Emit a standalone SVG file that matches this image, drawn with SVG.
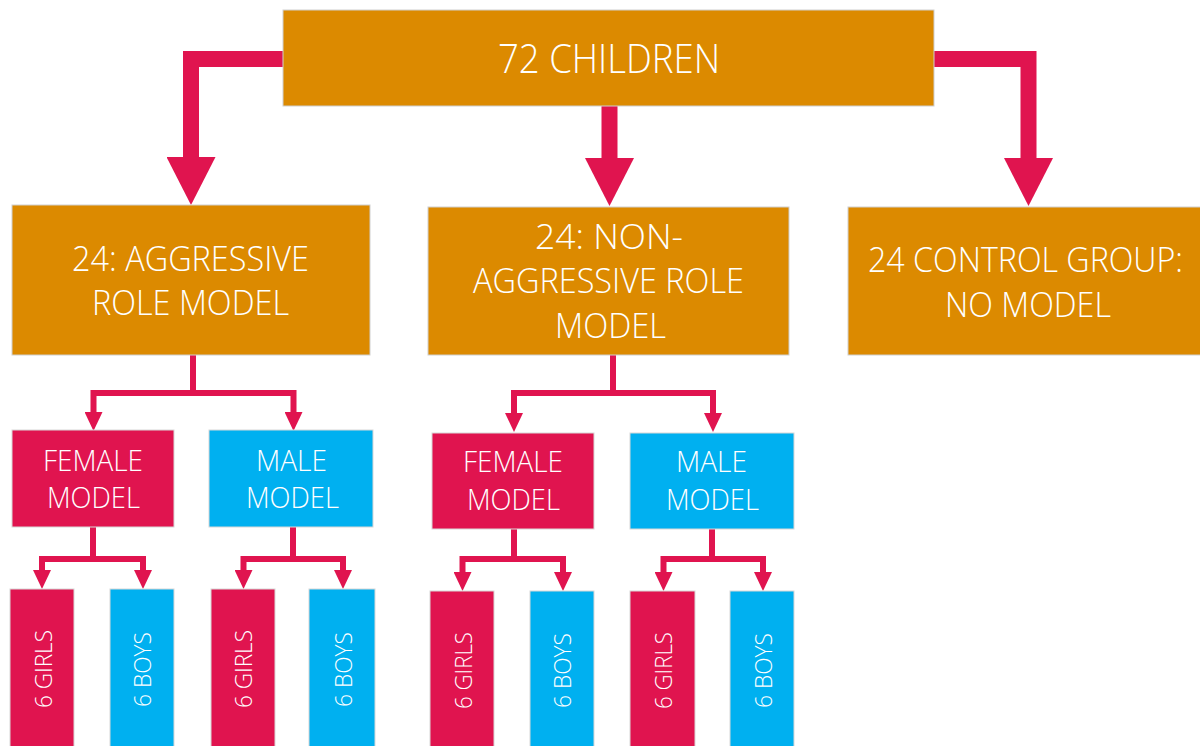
<svg xmlns="http://www.w3.org/2000/svg" width="1200" height="746" viewBox="0 0 1200 746">
<style>
.orange{fill:#DC8A00;stroke:#cfcfcf;stroke-width:1}
.pink{fill:#E0144F;stroke:#d8d8d8;stroke-width:1}
.blue{fill:#00B0F0;stroke:#d8d8d8;stroke-width:1}
text{font-family:"Open Sans","Liberation Sans",sans-serif;font-weight:300;fill:#FFFFFF;text-anchor:middle}
.t1{font-size:40px}
.t2{font-size:34px}
.t3{font-size:29px}
.t4{font-size:23px}
.big{fill:none;stroke:#E0144F;stroke-width:16;stroke-linejoin:miter}
.small{fill:none;stroke:#E0144F;stroke-width:6;stroke-linejoin:miter}
</style>
<defs>
<marker id="bigHead" markerUnits="userSpaceOnUse" markerWidth="48" markerHeight="49" viewBox="0 -24.5 48 49" refX="1" refY="0" orient="auto">
<path d="M0,-24.5 L48,0 L0,24.5 z" fill="#E0144F"/>
</marker>
<marker id="smallHead" markerUnits="userSpaceOnUse" markerWidth="19" markerHeight="18" viewBox="0 -9 19 18" refX="1" refY="0" orient="auto-start-reverse">
<path d="M0,-9 L19,0 L0,9 z" fill="#E0144F"/>
</marker>
</defs>
<g id="connectors">
<path class="big" d="M290,59 H191 V158" marker-end="url(#bigHead)"/>
<path class="big" d="M609.5,100 V159" marker-end="url(#bigHead)"/>
<path class="big" d="M928,59 H1028.5 V159" marker-end="url(#bigHead)"/>
<path class="small" d="M193,355 V393"/>
<path class="small" d="M93.5,413 V393 H293.5 V413" marker-start="url(#smallHead)" marker-end="url(#smallHead)"/>
<path class="small" d="M93,527 V559"/>
<path class="small" d="M42,571 V559 H143 V571" marker-start="url(#smallHead)" marker-end="url(#smallHead)"/>
<path class="small" d="M293,527 V559"/>
<path class="small" d="M243.5,571 V559 H343 V571" marker-start="url(#smallHead)" marker-end="url(#smallHead)"/>
<path class="small" d="M613,355 V393"/>
<path class="small" d="M514,414 V393 H713 V414" marker-start="url(#smallHead)" marker-end="url(#smallHead)"/>
<path class="small" d="M514,529 V559"/>
<path class="small" d="M462.5,573 V559 H563 V573" marker-start="url(#smallHead)" marker-end="url(#smallHead)"/>
<path class="small" d="M712,529 V559"/>
<path class="small" d="M663.5,573 V559 H763 V573" marker-start="url(#smallHead)" marker-end="url(#smallHead)"/>
</g>
<g id="node-72-children">
<rect class="orange" x="283" y="10" width="651" height="96"/>
<text class="t1" x="609" y="73" textLength="222" lengthAdjust="spacingAndGlyphs">72 CHILDREN</text>
</g>
<g id="node-aggressive">
<rect class="orange" x="12" y="205" width="358" height="150"/>
<text class="t2" x="190.5" y="271" textLength="237" lengthAdjust="spacingAndGlyphs">24: AGGRESSIVE</text>
<text class="t2" x="190.5" y="315" textLength="197" lengthAdjust="spacingAndGlyphs">ROLE MODEL</text>
</g>
<g id="node-non-aggressive">
<rect class="orange" x="428" y="207" width="361" height="148"/>
<text class="t2" x="609" y="249" textLength="148" lengthAdjust="spacingAndGlyphs">24:  NON-</text>
<text class="t2" x="608.5" y="293" textLength="271" lengthAdjust="spacingAndGlyphs">AGGRESSIVE ROLE</text>
<text class="t2" x="610.5" y="338" textLength="111" lengthAdjust="spacingAndGlyphs">MODEL</text>
</g>
<g id="node-control">
<rect class="orange" x="848" y="207" width="360" height="148"/>
<text class="t2" x="1025.5" y="272" textLength="315" lengthAdjust="spacingAndGlyphs">24 CONTROL GROUP:</text>
<text class="t2" x="1028" y="317" textLength="166" lengthAdjust="spacingAndGlyphs">NO MODEL</text>
</g>
<g id="node-agg-female">
<rect class="pink" x="12" y="430" width="162" height="97"/>
<text class="t3" x="93" y="471" textLength="100" lengthAdjust="spacingAndGlyphs">FEMALE</text>
<text class="t3" x="93.5" y="508" textLength="93" lengthAdjust="spacingAndGlyphs">MODEL</text>
</g>
<g id="node-agg-male">
<rect class="blue" x="209" y="430" width="164" height="97"/>
<text class="t3" x="291.5" y="471" textLength="71" lengthAdjust="spacingAndGlyphs">MALE</text>
<text class="t3" x="292.5" y="508" textLength="93" lengthAdjust="spacingAndGlyphs">MODEL</text>
</g>
<g id="node-non-female">
<rect class="pink" x="432" y="433" width="162" height="96"/>
<text class="t3" x="513" y="472" textLength="100" lengthAdjust="spacingAndGlyphs">FEMALE</text>
<text class="t3" x="513.5" y="510" textLength="93" lengthAdjust="spacingAndGlyphs">MODEL</text>
</g>
<g id="node-non-male">
<rect class="blue" x="630" y="433" width="164" height="96"/>
<text class="t3" x="711.5" y="472" textLength="71" lengthAdjust="spacingAndGlyphs">MALE</text>
<text class="t3" x="712.5" y="510" textLength="93" lengthAdjust="spacingAndGlyphs">MODEL</text>
</g>
<g id="node-agg-female-girls">
<rect class="pink" x="10" y="589" width="64" height="170"/>
<text class="t4" transform="translate(52,669) rotate(-90)" x="0" y="0" textLength="78" lengthAdjust="spacingAndGlyphs">6 GIRLS</text>
</g>
<g id="node-agg-female-boys">
<rect class="blue" x="110" y="589" width="64" height="170"/>
<text class="t4" transform="translate(151,669.5) rotate(-90)" x="0" y="0" textLength="75" lengthAdjust="spacingAndGlyphs">6 BOYS</text>
</g>
<g id="node-agg-male-girls">
<rect class="pink" x="211" y="589" width="64" height="170"/>
<text class="t4" transform="translate(252,669) rotate(-90)" x="0" y="0" textLength="78" lengthAdjust="spacingAndGlyphs">6 GIRLS</text>
</g>
<g id="node-agg-male-boys">
<rect class="blue" x="309" y="589" width="66" height="170"/>
<text class="t4" transform="translate(352,669.5) rotate(-90)" x="0" y="0" textLength="75" lengthAdjust="spacingAndGlyphs">6 BOYS</text>
</g>
<g id="node-non-female-girls">
<rect class="pink" x="430" y="591" width="64" height="170"/>
<text class="t4" transform="translate(472,670.5) rotate(-90)" x="0" y="0" textLength="77" lengthAdjust="spacingAndGlyphs">6 GIRLS</text>
</g>
<g id="node-non-female-boys">
<rect class="blue" x="530" y="591" width="64" height="170"/>
<text class="t4" transform="translate(571,670.5) rotate(-90)" x="0" y="0" textLength="75" lengthAdjust="spacingAndGlyphs">6 BOYS</text>
</g>
<g id="node-non-male-girls">
<rect class="pink" x="630" y="591" width="65" height="170"/>
<text class="t4" transform="translate(672,670.5) rotate(-90)" x="0" y="0" textLength="77" lengthAdjust="spacingAndGlyphs">6 GIRLS</text>
</g>
<g id="node-non-male-boys">
<rect class="blue" x="730" y="591" width="64" height="170"/>
<text class="t4" transform="translate(772,670.5) rotate(-90)" x="0" y="0" textLength="75" lengthAdjust="spacingAndGlyphs">6 BOYS</text>
</g>
</svg>
